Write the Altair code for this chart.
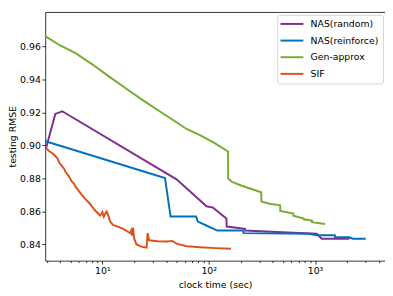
import altair as alt
import pandas as pd

series_names = ["NAS(random)", "NAS(reinforce)", "Gen-approx", "SIF"]
series_colors = ["#7E2F8E", "#0072BD", "#77AC30", "#D95319"]

random_x = [2.95, 3.61, 4.19, 49.8, 95.4, 109.8, 126.5, 146.8, 147.5, 219.6, 220.5, 550, 1039, 1155, 2109]
random_y = [0.8983, 0.9191, 0.9207, 0.8794, 0.8630, 0.8622, 0.8590, 0.8556, 0.8507, 0.8493, 0.8483, 0.8471, 0.8463, 0.8433, 0.8433]

reinforce_x = [2.92, 38.8, 43.8, 76.1, 78.9, 94.0, 120.5, 211.8, 212.5, 871, 1039, 1535, 1540, 2109, 2263, 2999]
reinforce_y = [0.9025, 0.8802, 0.8568, 0.8568, 0.8537, 0.8515, 0.8483, 0.8483, 0.8467, 0.8463, 0.8454, 0.8454, 0.8443, 0.8442, 0.8433, 0.8433]

genapprox_x = [2.9, 3.97, 5.64, 8.04, 11.5, 16.3, 23.2, 33.1, 47.0, 62.5, 82.8, 113.8, 152, 152.5, 165.6, 204.8,
               312, 313, 373, 470, 471, 624, 625, 782, 783, 934, 935, 1242]
genapprox_y = [0.9663, 0.9608, 0.9558, 0.9492, 0.9419, 0.9350, 0.9281, 0.9215, 0.9151, 0.9098, 0.9062, 0.9013, 0.8963, 0.8799,
               0.8778, 0.8755, 0.8715, 0.8659, 0.8646, 0.8636, 0.8602, 0.8586, 0.8573, 0.8556, 0.8551, 0.8543, 0.8534, 0.8523]

sif_x = [2.94, 3.16, 3.39, 3.59, 3.77, 3.95, 4.19, 4.35, 4.51, 4.83, 5.18, 5.37, 5.57, 5.97, 6.41, 6.89, 7.39, 7.92,
         8.51, 9.13, 9.53, 9.79, 10.0, 10.3, 10.66, 10.98, 11.46, 11.78, 12.55, 13.95, 15.51, 17.24, 18.18, 18.77,
         19.05, 19.46, 19.88, 20.87, 23.21, 26.07, 26.64, 27.49, 33.05, 40.86, 45.43, 50.5, 62.4, 82.8, 116.2, 162.2]
sif_y = [0.8985, 0.8964, 0.8952, 0.8937, 0.8922, 0.8893, 0.8872, 0.8860, 0.8838, 0.8814, 0.8778, 0.8771, 0.8751, 0.8725,
         0.8699, 0.8675, 0.8656, 0.8632, 0.8606, 0.8586, 0.8574, 0.8583, 0.8595, 0.8567, 0.8586, 0.8598, 0.8568, 0.8539,
         0.8517, 0.8507, 0.8495, 0.8477, 0.8467, 0.8485, 0.8452, 0.8500, 0.8437, 0.8400, 0.8385, 0.8379, 0.8467, 0.8424,
         0.8418, 0.8416, 0.8420, 0.8402, 0.8388, 0.8382, 0.8376, 0.8372]

y_ticks = [0.84, 0.86, 0.88, 0.90, 0.92, 0.94, 0.96]
x_major = [10, 100, 1000]
x_minor = [3, 4, 5, 6, 7, 8, 9, 20, 30, 40, 50, 60, 70, 80, 90,
           200, 300, 400, 500, 600, 700, 800, 900, 2000, 3000, 4000]

rows = []
for name, xs, ys in zip(series_names,
                        [random_x, reinforce_x, genapprox_x, sif_x],
                        [random_y, reinforce_y, genapprox_y, sif_y]):
    for i, (xv, yv) in enumerate(zip(xs, ys)):
        rows.append({"series": name, "time": xv, "rmse": yv, "order": i})
df = pd.DataFrame(rows)

FONT = "DejaVu Sans"
x_scale = alt.Scale(type="log", domain=[2.9, 4550], nice=False)
y_scale = alt.Scale(domain=[0.830, 0.981], nice=False, zero=False)

major_test = "datum.value == 10 || datum.value == 100 || datum.value == 1000"

lines = alt.Chart(df).mark_line(strokeWidth=2).encode(
    x=alt.X("time:Q", scale=x_scale,
            axis=alt.Axis(values=sorted(x_major + x_minor), title="clock time (sec)",
                          labelExpr="datum.value == 10 ? '10¹' : datum.value == 100 ? '10²' : datum.value == 1000 ? '10³' : ''",
                          tickSize={"condition": {"test": major_test, "value": 3.5}, "value": 2},
                          labelPadding=2, grid=False, titlePadding=4)),
    y=alt.Y("rmse:Q", scale=y_scale,
            axis=alt.Axis(values=y_ticks, format=".2f", title="testing RMSE", tickSize=3.5,
                          labelPadding=1.5, grid=False, titlePadding=2)),
    color=alt.Color("series:N", scale=alt.Scale(domain=series_names, range=series_colors),
                    legend=alt.Legend(title=None, orient="none", legendX=237, legendY=3,
                                      symbolType="M-1.7,0H4.96", symbolSize=49, symbolStrokeWidth=2,
                                      labelFont=FONT, labelFontSize=9.5, labelColor="black",
                                      strokeColor="#d5d5d5", fillColor="white", padding=4.5,
                                      cornerRadius=2, rowPadding=6, labelOffset=20)),
    order="order:Q",
)

top = alt.Chart(df).mark_point(opacity=0).encode(
    x=alt.X("time:Q", scale=x_scale,
            axis=alt.Axis(orient="top", labels=False, ticks=False, domain=True, title=None, grid=False)),
)

chart = alt.layer(lines, top).resolve_axis(x="independent").properties(
    width=347, height=254,
    autosize=alt.AutoSizeParams(type="none"),
    padding={"left": 38, "top": 1, "right": 0, "bottom": 30},
).configure_view(stroke=None).configure_axis(
    labelFont=FONT, labelFontSize=9.5, labelColor="black",
    titleFont=FONT, titleFontSize=9.5, titleColor="black", titleFontWeight="normal",
    domainColor="black", tickColor="black", domainWidth=0.8, tickWidth=0.8,
)

chart.save("out.html", embed_options={"renderer": "svg", "actions": False})
